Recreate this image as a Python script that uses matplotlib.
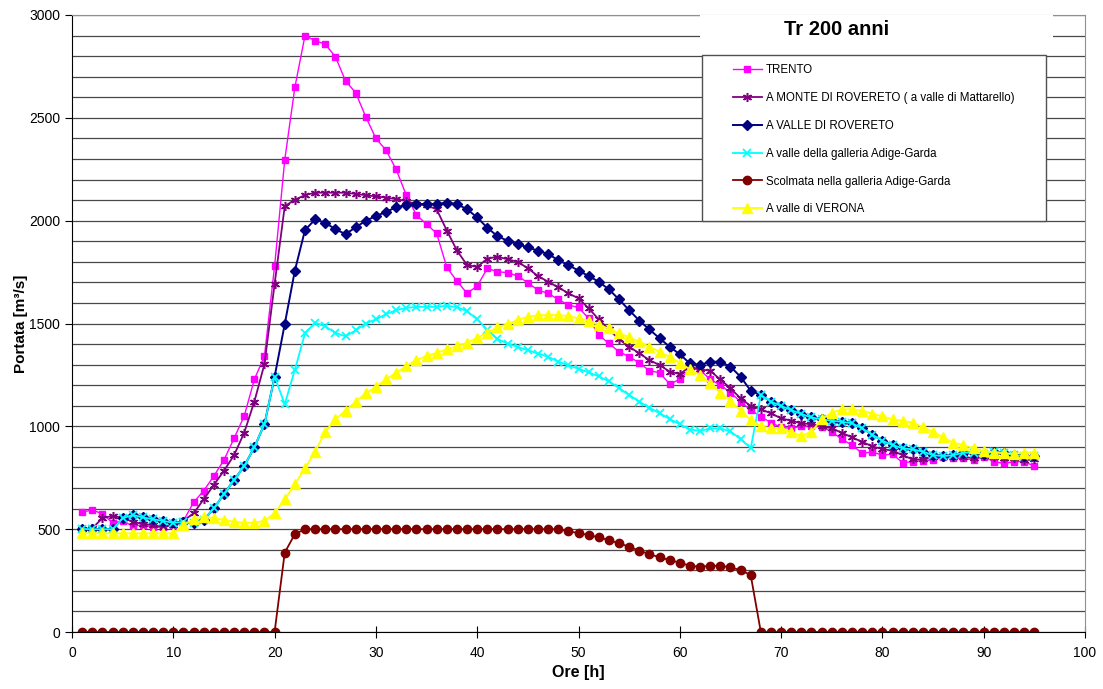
import numpy as np
import matplotlib
matplotlib.use('Agg')
import matplotlib.pyplot as plt
from matplotlib.patches import Rectangle

plt.rcParams['font.family'] = ['Liberation Sans', 'DejaVu Sans']

# ore
ore = list(range(1, 96))

# portate [m3/s]
trento = [583, 593, 575, 531, 540, 515, 520, 510, 510, 520,
          541, 630, 687, 758, 836, 942, 1050, 1228, 1342, 1779,
          2295, 2648, 2900, 2875, 2858, 2797, 2680, 2622, 2505, 2400,
          2343, 2249, 2124, 2027, 1983, 1938, 1773, 1706, 1647, 1682,
          1768, 1752, 1747, 1731, 1698, 1662, 1647, 1617, 1590, 1578,
          1525, 1444, 1403, 1363, 1338, 1309, 1270, 1261, 1206, 1228,
          1282, 1274, 1228, 1201, 1164, 1120, 1079, 1047, 1018, 995,
          990, 1001, 1001, 997, 974, 937, 909, 869, 875, 860,
          865, 823, 828, 833, 836, 849, 844, 844, 836, 853,
          828, 820, 828, 828, 807]

monte_rovereto = [500, 505, 553, 565, 555, 536, 525, 520, 510, 520,
                  541, 577, 645, 715, 784, 860, 969, 1120, 1303, 1692,
                  2070, 2102, 2124, 2136, 2136, 2136, 2136, 2130, 2124, 2118,
                  2112, 2105, 2095, 2080, 2075, 2055, 1952, 1855, 1784, 1775,
                  1815, 1825, 1812, 1800, 1768, 1731, 1703, 1676, 1647, 1622,
                  1574, 1520, 1471, 1423, 1387, 1355, 1322, 1298, 1266, 1254,
                  1290, 1277, 1270, 1228, 1185, 1136, 1099, 1083, 1063, 1039,
                  1027, 1015, 1010, 1001, 990, 969, 946, 925, 902, 890,
                  881, 860, 839, 839, 849, 849, 853, 853, 844, 855,
                  853, 844, 844, 836, 839]

valle_rovereto = [501, 500, 500, 500, 553, 569, 557, 548, 540, 531,
                  535, 531, 545, 601, 671, 739, 807, 898, 1011, 1241,
                  1497, 1757, 1954, 2006, 1990, 1958, 1935, 1967, 2000, 2022,
                  2043, 2065, 2076, 2081, 2081, 2081, 2087, 2081, 2055, 2016,
                  1965, 1925, 1902, 1886, 1870, 1854, 1838, 1808, 1784, 1757,
                  1731, 1703, 1666, 1617, 1565, 1514, 1471, 1428, 1387, 1350,
                  1306, 1298, 1314, 1314, 1290, 1241, 1173, 1152, 1120, 1099,
                  1079, 1060, 1043, 1034, 1027, 1022, 1015, 990, 960, 930,
                  909, 893, 888, 877, 860, 855, 860, 872, 872, 866,
                  877, 872, 860, 855, 855]

valle_galleria = [501, 500, 500, 500, 553, 569, 557, 548, 540, 531,
                  535, 531, 545, 601, 671, 739, 807, 898, 1011, 1241,
                  1108, 1275, 1452, 1504, 1486, 1455, 1437, 1467, 1500, 1520,
                  1545, 1565, 1576, 1581, 1581, 1581, 1586, 1580, 1560, 1520,
                  1470, 1425, 1402, 1386, 1370, 1354, 1338, 1315, 1296, 1280,
                  1262, 1243, 1219, 1186, 1152, 1120, 1090, 1064, 1036, 1010,
                  984, 978, 990, 990, 975, 938, 894, 1152, 1120, 1099,
                  1079, 1060, 1043, 1034, 1027, 1022, 1015, 990, 960, 930,
                  909, 893, 888, 877, 860, 855, 860, 872, 872, 866,
                  877, 872, 860, 855, 855]

scolmata = [0, 0, 0, 0, 0, 0, 0, 0, 0, 0,
            0, 0, 0, 0, 0, 0, 0, 0, 0, 0,
            386, 476, 500, 500, 500, 500, 500, 500, 500, 500,
            500, 500, 500, 500, 500, 500, 500, 500, 500, 500,
            500, 500, 500, 500, 500, 500, 500, 500, 491, 480,
            472, 460, 447, 431, 415, 395, 379, 363, 350, 337,
            322, 317, 322, 322, 314, 301, 277, 0, 0, 0,
            0, 0, 0, 0, 0, 0, 0, 0, 0, 0,
            0, 0, 0, 0, 0, 0, 0, 0, 0, 0,
            0, 0, 0, 0, 0]

verona = [480, 480, 480, 480, 480, 480, 480, 480, 480, 480,
          520, 548, 561, 553, 545, 536, 531, 531, 541, 578,
          645, 719, 796, 877, 974, 1034, 1076, 1120, 1160, 1193,
          1228, 1261, 1293, 1322, 1342, 1358, 1374, 1390, 1406, 1430,
          1456, 1481, 1497, 1517, 1533, 1540, 1541, 1541, 1536, 1525,
          1514, 1492, 1476, 1452, 1433, 1411, 1387, 1363, 1337, 1309,
          1277, 1249, 1209, 1164, 1125, 1076, 1031, 1001, 990, 990,
          974, 953, 974, 1034, 1066, 1083, 1083, 1076, 1062, 1048,
          1034, 1027, 1018, 995, 974, 946, 920, 909, 893, 881,
          872, 869, 866, 872, 872]

fig = plt.figure(figsize=(11.03, 6.89), dpi=100)
ax = fig.add_axes([72/1103, 57/689, 1013/1103, 617/689])

ax.plot(ore, trento, color='#FF00FF', lw=1, marker='s', ms=4.5, label='TRENTO')
ax.plot(ore, monte_rovereto, color='#800080', lw=1.3, marker=(6, 2, 0), ms=6.5, mew=1.1,
        label='A MONTE DI ROVERETO ( a valle di Mattarello)')
ax.plot(ore, valle_rovereto, color='#000080', lw=1.4, marker='D', ms=5.3, label='A VALLE DI ROVERETO')
ax.plot(ore, valle_galleria, color='#00FFFF', lw=1.3, marker='x', ms=6, mew=1.3,
        label='A valle della galleria Adige-Garda')
ax.plot(ore, scolmata, color='#800000', lw=1.3, marker='o', ms=6, label='Scolmata nella galleria Adige-Garda')
ax.plot(ore, verona, color='#FFFF00', lw=1.3, marker='^', ms=6.5, label='A valle di VERONA')

# assi
ax.set_xlim(0, 100)
ax.set_ylim(0, 3000)
ax.set_xticks(np.arange(0, 101, 10))
ax.set_yticks(np.arange(0, 3001, 500))
ax.set_yticks(np.arange(0, 3001, 100), minor=True)
ax.tick_params(axis='x', direction='inout', length=8, labelsize=10, pad=6)
ax.tick_params(axis='y', direction='out', length=5, labelsize=10)
ax.tick_params(axis='y', which='minor', length=0)
ax.grid(axis='y', which='both', color='#484848', lw=0.9)
ax.set_axisbelow(True)
for s in ['top', 'right']:
    ax.spines[s].set_color('#909090')
ax.spines['left'].set_color('black')
ax.spines['bottom'].set_color('black')

ax.set_xlabel('Ore [h]', fontsize=11.5, fontweight='bold', labelpad=4)
ax.set_ylabel('Portata [m³/s]', fontsize=11, fontweight='bold', labelpad=1)

# riquadro titolo e legenda
ax.add_patch(Rectangle((0.620, 0.935), 0.348, 0.065, transform=ax.transAxes,
                       facecolor='white', edgecolor='none', zorder=5))
ax.text(0.755, 0.976, 'Tr 200 anni', transform=ax.transAxes, ha='center', va='center',
        fontsize=14.5, fontweight='bold', zorder=6)
ax.add_patch(Rectangle((0.6219, 0.6661), 0.3396, 0.2691, transform=ax.transAxes,
                       facecolor='white', edgecolor='#505050', lw=1, zorder=5))
leg = ax.legend(loc='upper left', bbox_to_anchor=(0.6525, 0.9200), frameon=False,
                fontsize=8.3, borderpad=0, borderaxespad=0, labelspacing=1.37,
                handlelength=2.5, handletextpad=0.35)
leg.set_zorder(6)

plt.savefig('out.png', dpi=100)
